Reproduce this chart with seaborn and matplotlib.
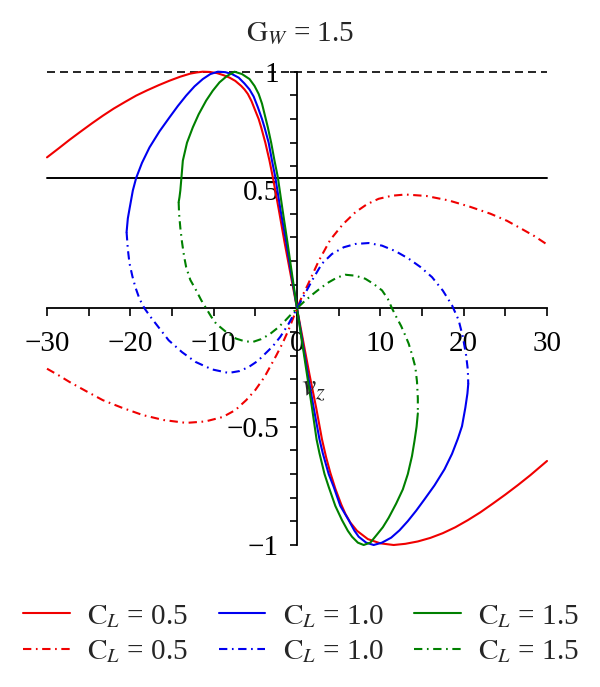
import numpy as np
import pandas as pd
import matplotlib
matplotlib.use("Agg")
import matplotlib.pyplot as plt
import seaborn as sns
from matplotlib.ticker import FixedLocator, MultipleLocator
from matplotlib.lines import Line2D

# ---------------- data ----------------
title_text = r"$\mathrm{G}_{W}$ = 1.5"
cl_labels = [r"$\mathrm{C}_{L}$ = 0.5", r"$\mathrm{C}_{L}$ = 1.0", r"$\mathrm{C}_{L}$ = 1.5"]

red_solid_x = [-30, -28.6, -27.3, -26.0, -24.6, -23.3, -22.0, -20.6, -19.3, -18.0, -16.6, -15.3, -14.0, -12.8, -12.0,
               -11.3, -10.5, -9.6, -8.8, -8.1, -7.4, -6.7, -6.3, -5.9, -5.45, -5.0, -4.6, -4.3, -3.8, -3.3, -2.9,
               -2.2, -1.5, -0.75, 0,
               0.75, 1.5, 2.3, 3.0, 3.5, 4.0, 4.6, 5.3, 5.8, 6.4, 7.2, 8.5, 10.0, 11.6, 13.0, 14.5, 16.0,
               17.5, 19.0, 20.5, 22.0, 23.5, 25.0, 26.5, 28.0, 30]
red_solid_y = [0.638, 0.676, 0.712, 0.746, 0.782, 0.814, 0.844, 0.873, 0.899, 0.921, 0.943, 0.962, 0.979, 0.992, 0.997,
               1.0, 0.999, 0.994, 0.985, 0.975, 0.961, 0.94, 0.925, 0.906, 0.875, 0.835, 0.80, 0.765, 0.70, 0.624, 0.554,
               0.42, 0.28, 0.14, 0,
               -0.14, -0.28, -0.42, -0.554, -0.63, -0.695, -0.762, -0.828, -0.868, -0.905, -0.94, -0.975, -0.993, -1.0, -0.995, -0.985, -0.97,
               -0.95, -0.925, -0.895, -0.862, -0.825, -0.787, -0.747, -0.705, -0.645]

blue_solid_x = [-20.45, -20.3, -20.1, -19.7, -19.3, -18.6, -17.7, -16.5, -15.3, -14.3, -13.3, -12.3, -11.3, -10.4,
                -9.5, -8.6, -7.8, -7.0, -6.3, -5.7, -5.2, -4.7, -4.2, -3.9, -3.4, -3.0, -2.6, -2.0, -1.3, -0.65, 0,
                0.65, 1.3, 2.0, 2.7, 3.1, 3.8, 4.4, 5.2, 6.2, 6.9, 7.4, 8.3, 9.2, 10.2, 11.3, 12.3, 13.3, 14.3,
                15.3, 16.5, 17.7, 18.6, 19.3, 19.8, 20.2, 20.45, 20.55]
blue_solid_y = [0.322, 0.38, 0.42, 0.498, 0.551, 0.615, 0.68, 0.748, 0.807, 0.855, 0.899, 0.938, 0.969, 0.99,
                1.0, 0.998, 0.99, 0.975, 0.95, 0.925, 0.895, 0.85, 0.80, 0.765, 0.70, 0.624, 0.554, 0.42, 0.28, 0.14, 0,
                -0.14, -0.28, -0.42, -0.554, -0.613, -0.70, -0.754, -0.835, -0.895, -0.94, -0.965, -0.99, -1.0, -0.99, -0.969, -0.938, -0.899, -0.855,
                -0.807, -0.748, -0.68, -0.615, -0.551, -0.498, -0.42, -0.36, -0.32]

green_solid_x = [-14.2, -14.1, -14.0, -13.85, -13.7, -13.2, -12.5, -11.8, -10.9, -10.1, -9.3, -8.4, -7.5, -6.6,
                 -5.7, -5.1, -4.6, -4.2, -3.5, -3.1, -2.7, -2.3, -1.75, -1.15, -0.58, 0,
                 0.6, 1.2, 1.8, 2.35, 2.7, 3.3, 3.8, 4.6, 5.4, 6.1, 6.6, 7.3, 8.0, 8.8, 9.5, 10.3, 11.0,
                 11.9, 12.7, 13.3, 13.8, 14.1, 14.35, 14.5]
green_solid_y = [0.449, 0.47, 0.498, 0.56, 0.624, 0.70, 0.765, 0.82, 0.878, 0.92, 0.955, 0.982, 1.0, 0.99,
                 0.969, 0.94, 0.906, 0.865, 0.765, 0.70, 0.624, 0.554, 0.42, 0.28, 0.14, 0,
                 -0.14, -0.28, -0.42, -0.554, -0.613, -0.70, -0.754, -0.835, -0.895, -0.94, -0.965, -0.99, -1.0, -0.99, -0.96, -0.925, -0.885,
                 -0.825, -0.765, -0.70, -0.624, -0.56, -0.50, -0.444]

red_dd_x = [-30, -28.6, -27.3, -25.3, -23.3, -21.0, -18.5, -16.0, -13.3, -11.0, -8.9, -7.4, -6.1, -5.0, -3.9,
            -2.5, -1.7, -1.0, -0.5, 0,
            0.6, 1.3, 2.6, 4.0, 5.5, 7.0, 8.4, 9.8, 11.4, 13.0, 15.5, 18.2, 20.7, 23.2, 25.2, 27.0, 28.5, 30]
red_dd_y = [-0.255, -0.283, -0.311, -0.35, -0.388, -0.42, -0.451, -0.472, -0.484, -0.478, -0.459, -0.43, -0.388, -0.345, -0.29,
            -0.2, -0.145, -0.09, -0.045, 0,
            0.05, 0.1, 0.2, 0.29, 0.355, 0.406, 0.44, 0.463, 0.476, 0.481, 0.475, 0.456, 0.43, 0.40, 0.37, 0.335, 0.305, 0.27]

blue_dd_x = [-20.45, -20.3, -20.1, -19.75, -19.4, -18.9, -18.3, -17.6, -16.5, -15.4, -13.8, -12.2, -10.2, -8.2,
             -6.9, -5.8, -4.7, -3.8, -2.9, -2.0, -1.0, 0,
             1.0, 2.0, 3.0, 4.2, 5.6, 7.0, 8.6, 10.2, 11.8, 13.4, 14.8, 16.2, 17.5, 18.6, 19.4, 19.9, 20.3, 20.5, 20.55]
blue_dd_y = [0.322, 0.25, 0.19, 0.135, 0.09, 0.04, 0.0, -0.035, -0.085, -0.135, -0.185, -0.226, -0.258, -0.273,
             -0.265, -0.248, -0.222, -0.191, -0.16, -0.12, -0.065, 0,
             0.065, 0.13, 0.189, 0.23, 0.258, 0.272, 0.276, 0.265, 0.242, 0.21, 0.175, 0.132, 0.075, 0.013, -0.05, -0.12, -0.2, -0.26, -0.32]

green_dd_x = [-14.2, -14.15, -14.0, -13.8, -13.55, -13.3, -12.8, -12.1, -11.5, -10.9, -10.3, -9.7, -8.5, -7.3,
              -6.3, -5.3, -4.3, -3.3, -2.3, -1.5, -0.7, 0,
              0.9, 1.8, 2.8, 3.8, 4.8, 5.8, 7.0, 8.2, 9.2, 10.2, 10.9, 11.4, 11.9, 12.5, 13.0, 13.4, 13.8,
              14.2, 14.4, 14.5, 14.5]
green_dd_y = [0.449, 0.40, 0.34, 0.28, 0.22, 0.174, 0.12, 0.076, 0.035, 0.0, -0.035, -0.065, -0.1, -0.128,
              -0.139, -0.142, -0.13, -0.11, -0.082, -0.055, -0.025, 0,
              0.03, 0.057, 0.085, 0.11, 0.13, 0.142, 0.138, 0.125, 0.103, 0.076, 0.04, 0.0, -0.035, -0.075, -0.115, -0.149, -0.195,
              -0.248, -0.31, -0.38, -0.444]

dashed_level = 1.0
solid_level = 0.55

x_major = [-30, -20, -10, 0, 10, 20, 30]
x_major_labels = ["\u221230", "\u221220", "\u221210", "0", "10", "20", "30"]
y_major = [-1, -0.5, 0.5, 1]
y_major_labels = ["\u22121", "\u22120.5", "0.5", "1"]

# ---------------- styling ----------------
sns.set_style("white")
plt.rcParams["font.family"] = ["Liberation Serif", "DejaVu Serif"]
plt.rcParams["mathtext.fontset"] = "stix"

W, H = 600, 687
fig = plt.figure(figsize=(W / 100, H / 100), dpi=100)
ax = fig.add_axes([47 / W, 142 / H, 500 / W, 473.3 / H])
ax.set_xlim(-30, 30)
ax.set_ylim(-1, 1)

colors = ["#f00000", "#0000f0", "#008000"]
ddash = (0, (4, 2.2, 0.8, 2.2))
lw = 1.5

ax.plot([-30, 30], [dashed_level, dashed_level], color="black", lw=1.2,
        linestyle=(0, (4.8, 3.0)), clip_on=False, zorder=1)
ax.plot([-30, 30], [solid_level, solid_level], color="black", lw=1.4, clip_on=False, zorder=1)

solid_sets = [(red_solid_x, red_solid_y), (blue_solid_x, blue_solid_y), (green_solid_x, green_solid_y)]
dd_sets = [(red_dd_x, red_dd_y), (blue_dd_x, blue_dd_y), (green_dd_x, green_dd_y)]

for (xs, ys), c in zip(solid_sets, colors):
    sns.lineplot(x=xs, y=ys, sort=False, estimator=None, color=c, lw=lw, ax=ax, clip_on=False, zorder=3)
for (xs, ys), c in zip(dd_sets, colors):
    sns.lineplot(x=xs, y=ys, sort=False, estimator=None, color=c, lw=lw, ax=ax,
                 linestyle=ddash, clip_on=False, zorder=3)

# axes through origin
for s in ["top", "right"]:
    ax.spines[s].set_visible(False)
ax.spines["left"].set_position(("data", 0))
ax.spines["bottom"].set_position(("data", 0))
for s in ["left", "bottom"]:
    ax.spines[s].set_linewidth(1.3)
    ax.spines[s].set_color("black")
    ax.spines[s].set_zorder(2)

ax.xaxis.set_major_locator(FixedLocator(x_major))
ax.xaxis.set_minor_locator(MultipleLocator(5))
ax.set_xticklabels(x_major_labels)
ax.yaxis.set_major_locator(FixedLocator(y_major))
ax.yaxis.set_minor_locator(MultipleLocator(0.1))
ax.set_yticklabels(y_major_labels)
ax.tick_params(axis="x", which="both", direction="out", length=6, width=1.2, labelsize=21, pad=10,
               bottom=True, colors="black")
ax.tick_params(axis="y", which="both", direction="out", length=5, width=1.2, labelsize=21, pad=8,
               left=True, colors="black")
ax.set_xlabel("")
ax.set_ylabel("")

ax.text(0.5, -0.34, r"$v_z$", fontsize=23, ha="left", va="center")
fig.text(0.5, 1 - 33 / H, title_text, ha="center", va="center", fontsize=21)

handles, labels = [], []
for c, lab in zip(colors, cl_labels):
    handles.append(Line2D([0], [0], color=c, lw=lw))
    labels.append(lab)
    handles.append(Line2D([0], [0], color=c, lw=lw, linestyle=ddash))
    labels.append(lab)
fig.legend(handles, labels, ncol=3, loc="center", bbox_to_anchor=(301 / W, 53 / H),
           frameon=False, fontsize=21, handlelength=1.6, handletextpad=0.6,
           columnspacing=1.05, labelspacing=0.3, borderpad=0)

fig.savefig("out.png", dpi=100)
